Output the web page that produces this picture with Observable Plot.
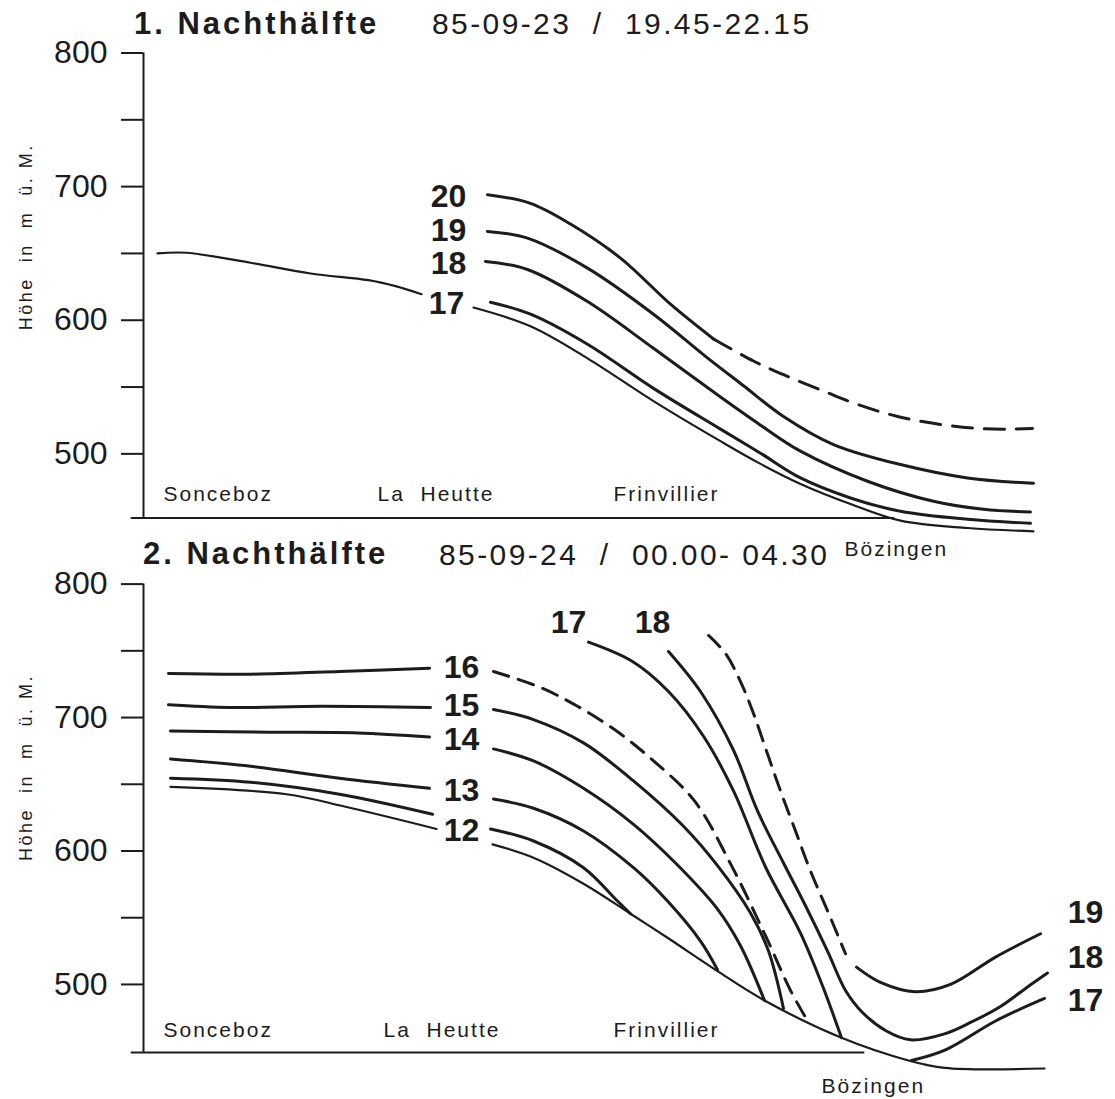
<!DOCTYPE html>
<html>
<head>
<meta charset="utf-8">
<script src="https://cdn.jsdelivr.net/npm/d3@7"></script>
<script src="https://cdn.jsdelivr.net/npm/@observablehq/plot@0.6"></script>
<style>
  body { margin: 0; background: #fff; }
  #wrap { position: relative; width: 1115px; height: 1099px; overflow: hidden;
          font-family: "Liberation Sans", Arial, sans-serif; color: #1c1c1c; }
  .panel { position: absolute; left: 0; }
  .ttl { position: absolute; white-space: pre; line-height: 30px; z-index: 2; }
  .bold { font-weight: bold; font-size: 31px; letter-spacing: 3px; }
  .date { font-size: 30px; letter-spacing: 2.4px; }
  g[aria-description="places"] text { letter-spacing: 2px; }
  g[aria-description="ylabel"] text { letter-spacing: 2.5px; }
</style>
</head>
<body>
<div id="wrap">
  <div id="p1" class="panel" style="top:0px"></div>
  <div id="p2" class="panel" style="top:540px"></div>
  <div class="ttl bold" style="left:134px;top:9px">1. Nachthälfte</div>
  <div class="ttl date" style="left:432px;top:9px">85-09-23  /  19.45-22.15</div>
  <div class="ttl bold" style="left:143px;top:539px">2. Nachthälfte</div>
  <div class="ttl date" style="left:439px;top:540px">85-09-24  /  00.00- 04.30</div>
</div>
<script>
// ---------- shared ----------
const xDomain = [0, 97.2];            // distance along the valley (hm, schematic)
const majorTicks = [500, 600, 700, 800];
const minorTicks = [550, 650, 750];
const yAxisLabel = "Höhe  in  m  ü. M.";

// ---------- panel 1 : 1. Nachthälfte ----------
const p1Domain = [452, 800];
const p1Baseline = [[-1.2, 452], [75.0, 452]];
const p1TerrainLeft = [[1.4,650],[4.3,650.5],[10.7,643],[16.7,635],[22.5,630],[25.2,625.5],[27.8,619.5]];
const p1TerrainRight = [[33.0,609.5],[38.7,595.5],[44.4,571.5],[51.0,539.5],[57.7,509.5],[61.7,492.5],[65.7,477.5],[70.7,462.5],[75.7,450],[82.4,444.5],[89.0,442]];
const p1Iso17 = [[34.7,613.5],[38.7,604.5],[44.4,582],[51.0,549],[57.7,518.5],[61.7,500.5],[65.7,482],[70.7,467],[75.7,457],[82.4,451],[88.7,448]];
const p1Iso18 = [[34.2,644],[38.4,638],[44.4,614],[51.0,579],[57.7,542.5],[61.7,521.5],[65.7,502],[72.4,479.5],[79.0,464.5],[84.0,458.5],[88.7,456.5]];
const p1Iso19 = [[34.4,666.5],[38.4,661.5],[44.4,639],[51.0,604.5],[56.2,573],[60.0,551],[64.0,528],[69.0,507],[75.7,492],[82.4,482],[89.0,478]];
const p1Iso20 = [[34.4,694],[38.7,687.5],[42.7,672],[47.7,646.5],[52.7,612],[57.0,586]];
const p1Iso20Dashed = [[57.0,586],[61.0,569.5],[64.4,558],[68.0,547],[71.4,537],[75.4,528],[79.7,522],[83.4,519],[86.7,518.5],[88.9,519]];
const p1Labels = [
  {x: 30.5, y: 692.7, t: "20"},
  {x: 30.5, y: 667.3, t: "19"},
  {x: 30.5, y: 642.6, t: "18"},
  {x: 30.3, y: 612.7, t: "17"}
];
const p1Places = [
  {x: 2.0, y: 470, t: "Sonceboz"},
  {x: 23.4, y: 470, t: "La  Heutte"},
  {x: 47.0, y: 470, t: "Frinvillier"},
  {x: 70.1, y: 428.7, t: "Bözingen"}
];

// ---------- panel 2 : 2. Nachthälfte ----------
const p2Domain = [449, 800];
const p2Baseline = [[-1.2, 449], [72.0, 449]];
const p2TerrainLeft = [[2.7,648],[14.3,642.5],[20.0,633.5],[29.3,616.5]];
const p2TerrainRight = [[34.9,605],[39.0,595],[44.0,575.5],[48.7,553],[52.4,535],[57.4,510],[62.1,488],[69.8,460],[76.5,443],[80.1,437.5],[90.1,437]];
const p2Iso12Left = [[2.7,654.5],[10.7,651.5],[19.6,642.5],[28.9,627.5]];
const p2Iso12Right = [[34.7,616.5],[39.0,607.5],[44.0,587.5],[47.4,562.5],[48.7,553]];
const p2Iso13Left = [[2.7,669],[10.7,663.5],[19.6,654.5],[28.6,647]];
const p2Iso13Right = [[35.0,639],[39.0,632],[44.0,615],[49.0,587.5],[52.4,562.5],[55.7,532.5],[57.4,511]];
const p2Iso14Left = [[2.7,690],[12.5,689],[21.4,688.5],[28.6,685.5]];
const p2Iso14Right = [[35.0,676.5],[39.0,667.5],[44.0,647],[49.0,620],[53.2,591],[57.4,556.5],[59.7,529],[62.1,488]];
const p2Iso15Left = [[2.5,709.5],[8.6,707.5],[17.8,708.5],[28.7,707.5]];
const p2Iso15Right = [[35.0,706],[39.0,698.5],[44.0,681],[49.0,652.5],[54.0,618.5],[57.4,589],[60.7,553.5],[62.5,525],[64.0,482]];
const p2Iso16Left = [[2.5,733],[10.7,732.5],[19.6,734.5],[28.6,737]];
const p2Iso16Dashed = [[35.0,734.5],[39.7,722.5],[43.4,708.5],[47.1,691],[50.7,669.5],[55.1,637.5],[58.8,589],[62.2,536.5],[64.7,495.5],[66.5,471.5]];
const p2Iso17Down = [[44.5,756.5],[48.9,742],[52.5,719.5],[56.0,686],[59.0,645],[62.2,588],[65.7,538.5],[67.9,499],[69.8,460]];
const p2Iso17Up = [[76.8,443],[80.2,451],[85.3,473],[90.1,489.5]];
const p2Iso18 = [[52.5,749.5],[55.7,719.5],[59.0,675.5],[61.4,630],[64.0,591],[66.2,559],[68.4,525],[70.2,495.5],[71.9,479],[74.2,465.5],[76.7,458.5],[80.1,463],[82.7,471.5],[85.7,483.5],[88.2,497],[90.4,508.5]];
const p2Iso19Dashed = [[56.5,761.5],[58.2,748],[59.7,727],[61.0,703],[62.3,675],[63.7,645],[65.2,615],[66.7,585],[68.5,553.5],[70.2,523]];
const p2Iso19 = [[71.3,513],[73.7,501.5],[77.2,494.5],[80.7,500],[85.2,520.5],[89.7,538]];
const p2Labels = [
  {x: 31.8, y: 737, t: "16"},
  {x: 31.8, y: 708.8, t: "15"},
  {x: 31.8, y: 683.4, t: "14"},
  {x: 31.8, y: 645.3, t: "13"},
  {x: 31.8, y: 615.3, t: "12"},
  {x: 42.5, y: 771.3, t: "17"},
  {x: 50.9, y: 771.3, t: "18"},
  {x: 94.2, y: 553.6, t: "19"},
  {x: 94.2, y: 520.0, t: "18"},
  {x: 94.2, y: 487.8, t: "17"}
];
const p2Places = [
  {x: 2.0, y: 465.5, t: "Sonceboz"},
  {x: 24.0, y: 465.5, t: "La  Heutte"},
  {x: 47.0, y: 465.5, t: "Frinvillier"},
  {x: 67.8, y: 423.5, t: "Bözingen"}
];

const ink = "#1c1c1c";
const font = "'Liberation Sans', Arial, sans-serif";

function panel(o) {
  const L = (d, w, dash) => Plot.line(d, {stroke: ink, strokeWidth: w, curve: "catmull-rom",
                                         strokeDasharray: dash, strokeLinecap: "round", strokeLinejoin: "round"});
  return Plot.plot({
    width: 1115, height: o.height,
    marginLeft: 143, marginRight: 0, marginTop: o.marginTop, marginBottom: o.marginBottom,
    x: {domain: xDomain, axis: null},
    y: {domain: o.yDomain, axis: null},
    style: {background: "transparent", overflow: "visible", fontFamily: font, color: ink},
    marks: [
      Plot.line(o.baseline, {stroke: ink, strokeWidth: 2}),
      Plot.ruleX([0], {y1: o.yDomain[0], y2: o.yDomain[1], stroke: ink, strokeWidth: 2}),
      Plot.axisY({ticks: majorTicks, tickSize: 22, tickPadding: 14, fontSize: 32,
                  stroke: ink, strokeWidth: 2, fill: ink, tickFormat: d => String(d), label: null}),
      Plot.axisY({ticks: minorTicks, tickSize: 22, stroke: ink, strokeWidth: 2,
                  tickFormat: () => "", label: null}),
      ...o.thin.map(d => L(d, 2.2, null)),
      ...o.solid.map(d => L(d, 3, null)),
      ...o.dashed.map(d => L(d, 3, o.dash)),
      Plot.text(o.labels, {x: "x", y: "y", text: "t", fontSize: 32, fontWeight: "bold", fill: ink}),
      Plot.text(o.places, {x: "x", y: "y", text: "t", textAnchor: "start", fontSize: 21, fill: ink, ariaDescription: "places"}),
      Plot.text([yAxisLabel], {x: -11.7, y: 662.5, text: d => d, rotate: -90, fontSize: 18, fill: ink, ariaDescription: "ylabel"})
    ]
  });
}

document.getElementById("p1").append(panel({
  height: 560, marginTop: 52.5, marginBottom: 42.5, yDomain: p1Domain,
  baseline: p1Baseline,
  thin: [p1TerrainLeft, p1TerrainRight],
  solid: [p1Iso17, p1Iso18, p1Iso19, p1Iso20],
  dashed: [p1Iso20Dashed], dash: "20,12",
  labels: p1Labels, places: p1Places
}));

document.getElementById("p2").append(panel({
  height: 559, marginTop: 43.6, marginBottom: 47, yDomain: p2Domain,
  baseline: p2Baseline,
  thin: [p2TerrainLeft, p2TerrainRight],
  solid: [p2Iso12Left, p2Iso12Right, p2Iso13Left, p2Iso13Right, p2Iso14Left, p2Iso14Right,
          p2Iso15Left, p2Iso15Right, p2Iso16Left, p2Iso17Down, p2Iso17Up, p2Iso18, p2Iso19],
  dashed: [p2Iso16Dashed, p2Iso19Dashed], dash: "16,10",
  labels: p2Labels, places: p2Places
}));
</script>
</body>
</html>
